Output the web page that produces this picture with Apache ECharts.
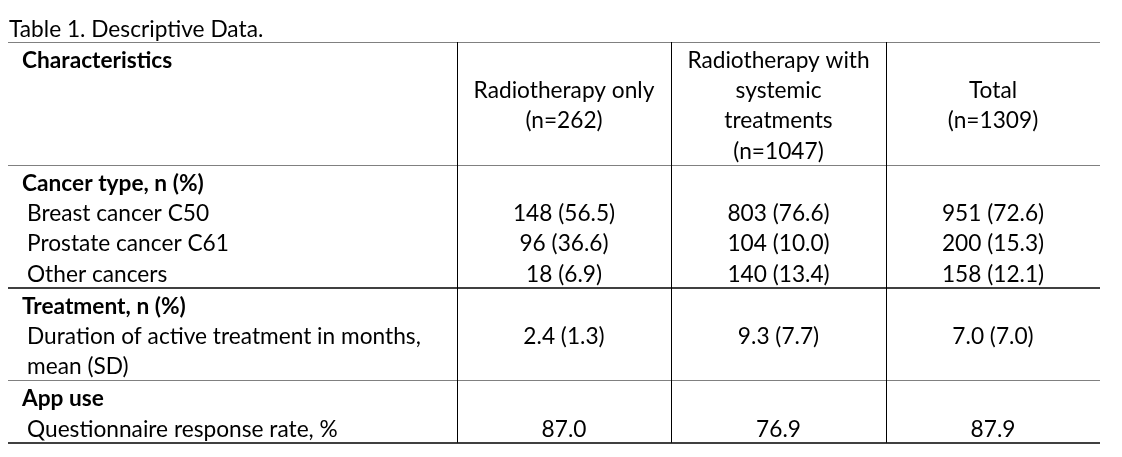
<!DOCTYPE html>
<html>
<head>
<meta charset="utf-8">
<script src="https://cdn.jsdelivr.net/npm/echarts@6/dist/echarts.min.js"></script>
<style>
html,body{margin:0;padding:0;background:#fff;}
#chart{width:1122px;height:457px;}
</style>
</head>
<body>
<div id="chart"></div>
<script>
// ---------- data ----------
const tableTitle = 'Table 1. Descriptive Data.';
const firstHeader = 'Characteristics';
const groupHeaders = [
  ['Radiotherapy only', '(n=262)'],
  ['Radiotherapy with', 'systemic', 'treatments', '(n=1047)'],
  ['Total', '(n=1309)']
];
const sectionNames = ['Cancer type, n (%)', 'Treatment, n (%)', 'App use'];
const cancerTypes = ['Breast cancer C50', 'Prostate cancer C61', 'Other cancers'];
const cancerCounts = [[148, 96, 18], [803, 104, 140], [951, 200, 158]];
const cancerPercents = [[56.5, 36.6, 6.9], [76.6, 10.0, 13.4], [72.6, 15.3, 12.1]];
const durationLabel = ['Duration of active treatment in months,', 'mean (SD)'];
const durationMean = [2.4, 9.3, 7.0];
const durationSD = [1.3, 7.7, 7.0];
const responseLabel = ['Questionnaire response rate, %'];
const responseRate = [87.0, 76.9, 87.9];

// ---------- layout (positions / styles) ----------
const FONT_FAMILY = 'Lato, "Open Sans", sans-serif';
const L = {
  left: 8, right: 1100, colEdges: [457, 671, 886],
  labelX: 22, indentX: 27, titleX: 9, titleY: 28,
  top: 42, firstOffset: 17, step: 30.3, bottomPad: 15, textShift: 1.5
};
const GRAY = '#808080', BLACK = '#000000';

// font size fitted so that a few labels get their reference widths
const measureCtx = document.createElement('canvas').getContext('2d');
measureCtx.font = '100px ' + FONT_FAMILY;
const fitSamples = [['Breast cancer C50', 179], [durationLabel[0], 403], [tableTitle, 257], ['Questionnaire response rate, %', 303]];
const fitRef = fitSamples.reduce((s, p) => s + p[1], 0);
const fitMeasured = fitSamples.reduce((s, p) => s + measureCtx.measureText(p[0]).width, 0);
const FS = Math.round(100 * fitRef / fitMeasured * 10) / 10;

// ---------- build rows ----------
const fmt = v => v.toFixed(1);
const sections = [
  [{label: [sectionNames[0]], bold: true}].concat(cancerTypes.map((c, i) => ({
    label: [c], values: [0, 1, 2].map(g => cancerCounts[g][i] + ' (' + fmt(cancerPercents[g][i]) + ')')
  }))),
  [{label: [sectionNames[1]], bold: true},
   {label: durationLabel, values: [0, 1, 2].map(g => fmt(durationMean[g]) + ' (' + fmt(durationSD[g]) + ')')}],
  [{label: [sectionNames[2]], bold: true},
   {label: responseLabel, values: responseRate.map(fmt)}]
];

const colBounds = L.colEdges.concat([L.right]);
const colCenters = [0, 1, 2].map(i => (colBounds[i] + colBounds[i + 1]) / 2);

const cells = [];
const rules = [];
cells.push({x: L.titleX, y: L.titleY, text: tableTitle, bold: false, align: 'left'});

let cursorY = L.top;
rules.push({y: cursorY, color: GRAY, width: 1});
const headerLines = Math.max.apply(null, groupHeaders.map(h => h.length));
cells.push({x: L.labelX, y: cursorY + L.firstOffset, text: firstHeader, bold: true, align: 'left'});
groupHeaders.forEach((h, g) => {
  const start = (headerLines - h.length) / 2;
  h.forEach((t, k) => cells.push({x: colCenters[g], y: cursorY + L.firstOffset + (start + k) * L.step, text: t, bold: false, align: 'center'}));
});
cursorY = cursorY + L.firstOffset + (headerLines - 1) * L.step + L.bottomPad;
const ruleStyles = [{color: GRAY, width: 1}, {color: BLACK, width: 1.5}, {color: GRAY, width: 1}, {color: BLACK, width: 1.5}];
rules.push({y: cursorY, color: ruleStyles[0].color, width: ruleStyles[0].width});

sections.forEach((sec, si) => {
  let line = 0;
  sec.forEach(row => {
    row.label.forEach((t, k) => cells.push({
      x: row.bold ? L.labelX : L.indentX, y: cursorY + L.firstOffset + (line + k) * L.step,
      text: t, bold: !!row.bold, align: 'left'
    }));
    if (row.values) row.values.forEach((v, g) => cells.push({
      x: colCenters[g], y: cursorY + L.firstOffset + line * L.step, text: v, bold: false, align: 'center'
    }));
    line += row.label.length;
  });
  cursorY = cursorY + L.firstOffset + (line - 1) * L.step + L.bottomPad;
  rules.push({y: cursorY, color: ruleStyles[si + 1].color, width: ruleStyles[si + 1].width});
});
const tableBottom = cursorY;
const verticals = L.colEdges.map(x => ({x: x, y1: L.top, y2: tableBottom}));

// ---------- chart ----------
const chart = echarts.init(document.getElementById('chart'), null, {renderer: 'canvas'});
chart.setOption({
  animation: false,
  backgroundColor: '#ffffff',
  grid: {left: 0, right: 0, top: 0, bottom: 0},
  xAxis: {type: 'value', min: 0, max: 1122, show: false},
  yAxis: {type: 'value', min: 0, max: 457, inverse: true, show: false},
  series: [
    {
      type: 'custom', clip: false, silent: true,
      data: rules.map(r => [L.left, r.y, L.right]),
      renderItem: (params, api) => {
        const r = rules[params.dataIndex];
        const p1 = api.coord([api.value(0), api.value(1)]);
        const p2 = api.coord([api.value(2), api.value(1)]);
        const y = Math.round(p1[1]) + (r.width % 2 === 1 ? 0.5 : 0);
        return {type: 'line', shape: {x1: p1[0], y1: y, x2: p2[0], y2: y},
          style: {stroke: r.color, lineWidth: r.width}};
      }
    },
    {
      type: 'custom', clip: false, silent: true,
      data: verticals.map(v => [v.x, v.y1, v.y2]),
      renderItem: (params, api) => {
        const p1 = api.coord([api.value(0), api.value(1)]);
        const p2 = api.coord([api.value(0), api.value(2)]);
        const x = Math.round(p1[0]) + 0.5;
        return {type: 'line', shape: {x1: x, y1: p1[1], x2: x, y2: p2[1]},
          style: {stroke: BLACK, lineWidth: 1}};
      }
    },
    {
      type: 'custom', clip: false, silent: true,
      data: cells.map(c => [c.x, c.y]),
      renderItem: (params, api) => {
        const c = cells[params.dataIndex];
        const p = api.coord([api.value(0), api.value(1)]);
        return {type: 'text', x: p[0], y: p[1] + L.textShift,
          style: {text: c.text, fill: '#000000', align: c.align, verticalAlign: 'middle',
            font: (c.bold ? 'bold ' : '') + FS + 'px ' + FONT_FAMILY}};
      }
    }
  ]
});
</script>
</body>
</html>
